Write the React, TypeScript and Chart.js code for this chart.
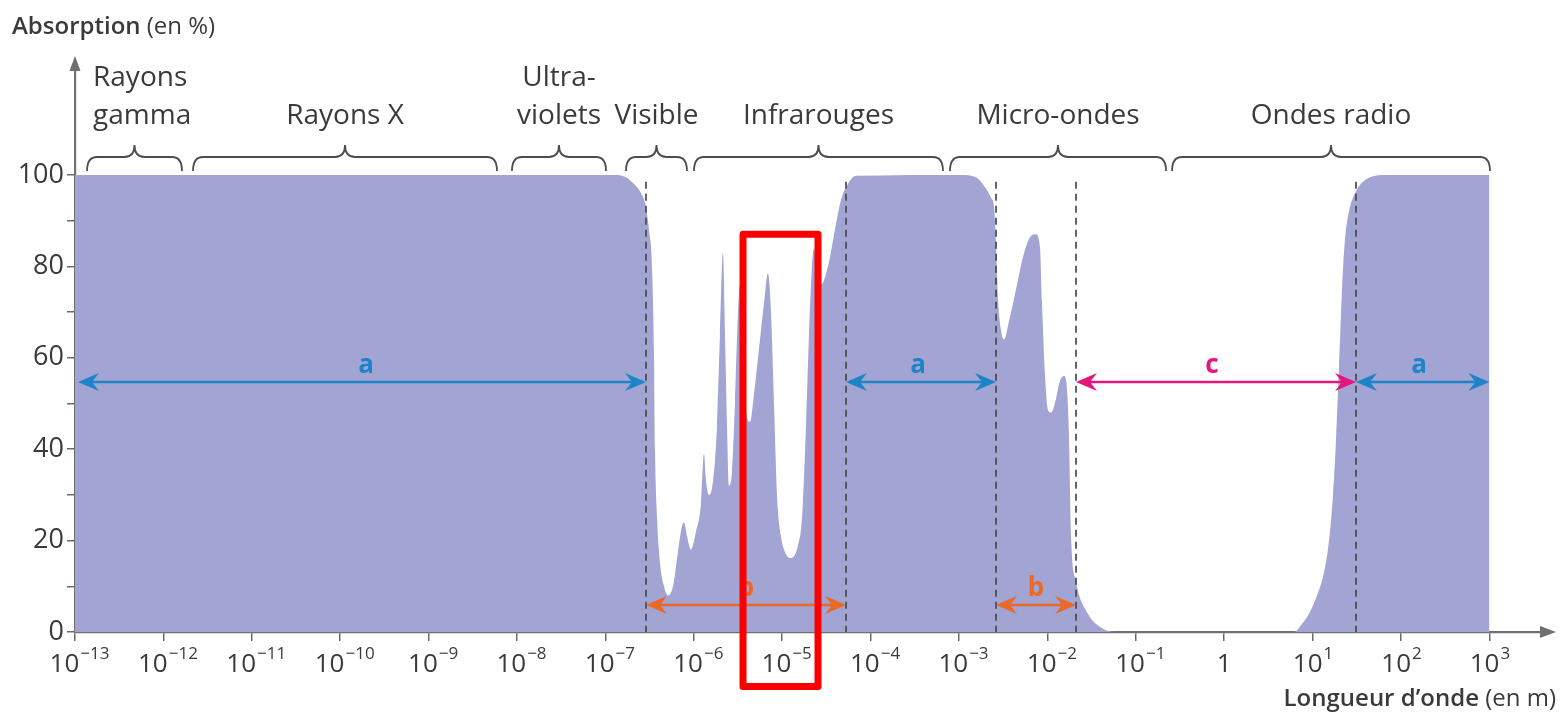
import React, { useEffect, useRef } from 'react';
import { Chart, registerables } from 'chart.js';

Chart.register(...registerables);

// log10 of wavelength (m)
const wavelengthExp = [
  -13, -6.88, -6.767, -6.676, -6.597, -6.541, -6.507, -6.473, -6.45, -6.439, -6.416, -6.382, -6.337,
  -6.292, -6.235, -6.19, -6.145, -6.111, -6.077, -6.032, -5.975, -5.919, -5.885, -5.862, -5.828,
  -5.783, -5.738, -5.704, -5.67, -5.647, -5.624, -5.602, -5.568, -5.534, -5.5, -5.477, -5.443,
  -5.398, -5.364, -5.319, -5.262, -5.206, -5.161, -5.127, -5.093, -5.059, -5.014, -4.957, -4.91,
  -4.86, -4.821, -4.776, -4.731, -4.697, -4.663, -4.64, -4.606, -4.561, -4.482, -4.403, -4.335,
  -4.256, -4.165, -2.977, -2.808, -2.695, -2.638, -2.604, -2.581, -2.559, -2.525, -2.491, -2.434,
  -2.355, -2.276, -2.208, -2.13, -2.083, -2.061, -2.027, -1.993, -1.959, -1.903, -1.857, -1.812,
  -1.778, -1.756, -1.733, -1.676, -1.541, -1.394, -1.224, 0.79, 0.869, 0.959, 1.05, 1.129, 1.186,
  1.231, 1.265, 1.299, 1.333, 1.367, 1.412, 1.48, 1.57, 1.683, 1.796, 3,
];
// absorption (%)
const absorption = [
  100, 100, 99.5, 98, 96, 93, 88, 80, 60, 40, 25, 15, 10,
  8, 10, 16, 22, 24, 21, 18, 22, 28, 39, 33, 30,
  33, 45, 65, 83, 65, 45, 32, 35, 50, 70, 76, 62,
  47, 46, 52, 62, 72, 78.5, 70, 50, 30, 21, 17, 16.2,
  16.8, 19, 25, 45, 65, 80, 84, 78, 76, 80, 88, 94.5,
  98, 99.8, 100, 99.5, 97, 95, 93, 85, 73, 66, 64, 68,
  75, 82, 86, 87, 84, 72, 56, 48.5, 48, 51, 55, 56,
  53, 43, 21, 11, 4, 1, 0, 0, 1.5, 4, 8, 13, 20,
  30, 42, 58, 75, 86, 92, 96, 98.5, 99.7, 100, 100,
];

const xTickExps = [-13, -12, -11, -10, -9, -8, -7, -6, -5, -4, -3, -2, -1, 0, 1, 2, 3];
const yTickValues = [0, 10, 20, 30, 40, 50, 60, 70, 80, 90, 100];
const yLabelStep = 20;

const regionLines = [['Rayons', 'gamma'], ['Rayons X'], ['Ultra-', 'violets'], ['Visible'], ['Infrarouges'], ['Micro-ondes'], ['Ondes radio']];
const regionStart = [-12.864, -11.665, -8.057, -6.767, -5.998, -3.102, -0.59];
const regionEnd = [-11.79, -8.226, -6.993, -6.077, -3.181, -0.658, 3.007];

const boundaryExps = [-6.541, -4.278, -2.581, -1.676, 1.491];
const arrowNames = ['a', 'b', 'a', 'b', 'c', 'a'];
const arrowFrom = [-13, -6.541, -4.278, -2.581, -1.676, 1.491];
const arrowTo = [-6.541, -4.278, -2.581, -1.676, 1.491, 3];
const arrowLevel = [54.7, 5.9, 54.7, 5.9, 54.7, 54.7];
const arrowLabelExp = [-9.708, -5.41, -3.464, -2.129, -0.138, 2.204];

const highlightExpFrom = -5.443;
const highlightExpTo = -4.595;
const highlightTop = 87;
const highlightBottom = -11.9;

const COLORS: Record<string, string> = { a: 'rgb(30,132,200)', b: 'rgb(236,104,36)', c: 'rgb(228,24,124)' };
const TEXT = '#3a3a3a';
const FONT = '"Open Sans", "Noto Sans", sans-serif';

function arrowHead(ctx: CanvasRenderingContext2D, tx: number, y: number, dir: number) {
  ctx.beginPath();
  ctx.moveTo(tx, y);
  ctx.lineTo(tx - dir * 21, y - 9);
  ctx.lineTo(tx - dir * 14, y);
  ctx.lineTo(tx - dir * 21, y + 9);
  ctx.closePath();
  ctx.fill();
}

const annotations = {
  id: 'annotations',
  afterDraw(chart: any) {
    const ctx: CanvasRenderingContext2D = chart.ctx;
    const xs = chart.scales.x;
    const ys = chart.scales.y;
    const X = (v: number) => xs.getPixelForValue(v);
    const Y = (v: number) => ys.getPixelForValue(v);
    const area = chart.chartArea;
    ctx.save();

    // dashed boundaries
    ctx.strokeStyle = '#4a4a4a';
    ctx.lineWidth = 1.7;
    ctx.setLineDash([7, 5]);
    boundaryExps.forEach((b) => {
      ctx.beginPath();
      ctx.moveTo(X(b), Y(98.5));
      ctx.lineTo(X(b), Y(0));
      ctx.stroke();
    });
    ctx.setLineDash([]);

    // arrows
    arrowNames.forEach((n, i) => {
      const c = COLORS[n];
      const x1 = X(arrowFrom[i]) + (i === 0 ? 3 : 0);
      const x2 = X(arrowTo[i]);
      const y = Y(arrowLevel[i]);
      ctx.strokeStyle = c;
      ctx.fillStyle = c;
      ctx.lineWidth = 2.4;
      ctx.beginPath();
      ctx.moveTo(x1 + 12, y);
      ctx.lineTo(x2 - 12, y);
      ctx.stroke();
      arrowHead(ctx, x1, y, -1);
      arrowHead(ctx, x2, y, 1);
      ctx.font = `bold 26px ${FONT}`;
      ctx.textAlign = 'center';
      ctx.textBaseline = 'alphabetic';
      ctx.fillText(n, X(arrowLabelExp[i]), y - 9);
    });

    // braces + region labels
    ctx.strokeStyle = '#4d4d4d';
    ctx.lineWidth = 1.8;
    const yTip = 145, yMid = 157, yEnd = 171;
    regionLines.forEach((lines, i) => {
      const x0 = X(regionStart[i]);
      const x1 = X(regionEnd[i]);
      const tip = (x0 + x1) / 2;
      const r = 10;
      ctx.beginPath();
      ctx.moveTo(x0, yEnd);
      ctx.quadraticCurveTo(x0, yMid, x0 + r, yMid);
      ctx.lineTo(tip - r, yMid);
      ctx.quadraticCurveTo(tip, yMid, tip, yTip);
      ctx.quadraticCurveTo(tip, yMid, tip + r, yMid);
      ctx.lineTo(x1 - r, yMid);
      ctx.quadraticCurveTo(x1, yMid, x1, yEnd);
      ctx.stroke();

      ctx.fillStyle = TEXT;
      ctx.font = `28px ${FONT}`;
      ctx.textBaseline = 'alphabetic';
      if (i === 0) {
        ctx.textAlign = 'left';
        ctx.fillText(lines[0], x0 + 6, 86);
        ctx.fillText(lines[1], x0 + 6, 124);
      } else {
        ctx.textAlign = 'center';
        if (lines.length === 2) {
          ctx.fillText(lines[0], tip, 86);
          ctx.fillText(lines[1], tip, 124);
        } else {
          ctx.fillText(lines[0], tip, 124);
        }
      }
    });

    // axis arrowheads
    ctx.fillStyle = '#707070';
    ctx.beginPath();
    ctx.moveTo(area.left, area.top - 6);
    ctx.lineTo(area.left - 5.5, area.top + 9);
    ctx.lineTo(area.left + 5.5, area.top + 9);
    ctx.closePath();
    ctx.fill();
    ctx.beginPath();
    ctx.moveTo(area.right + 8, area.bottom);
    ctx.lineTo(area.right - 8, area.bottom - 6);
    ctx.lineTo(area.right - 8, area.bottom + 6);
    ctx.closePath();
    ctx.fill();

    // x tick labels with superscripts
    ctx.fillStyle = TEXT;
    ctx.textAlign = 'left';
    ctx.textBaseline = 'alphabetic';
    xTickExps.forEach((e) => {
      const px = X(e);
      if (e === 0) {
        ctx.font = `26px ${FONT}`;
        ctx.textAlign = 'center';
        ctx.fillText('1', px, 672);
        ctx.textAlign = 'left';
        return;
      }
      const base = '10';
      const sup = e < 0 ? '\u2212' + String(-e) : String(e);
      ctx.font = `26px ${FONT}`;
      const wb = ctx.measureText(base).width;
      ctx.font = `17px ${FONT}`;
      const ws = ctx.measureText(sup).width;
      const start = px - (wb + ws) / 2 + (e < 0 ? 4 : 0);
      ctx.font = `26px ${FONT}`;
      ctx.fillText(base, start, 672);
      ctx.font = `17px ${FONT}`;
      ctx.fillText(sup, start + wb + 1, 659);
    });

    // axis titles
    ctx.textAlign = 'left';
    ctx.font = `600 24px ${FONT}`;
    ctx.fillText('Absorption', 12, 34);
    const wa = ctx.measureText('Absorption ').width;
    ctx.font = `24px ${FONT}`;
    ctx.fillText('(en %)', 12 + wa, 34);

    ctx.font = `24px ${FONT}`;
    const tail = ' (en m)';
    const wt = ctx.measureText(tail).width;
    ctx.textAlign = 'right';
    ctx.fillText(tail, 1556, 706);
    ctx.font = `600 24px ${FONT}`;
    ctx.fillText('Longueur d\u2019onde', 1556 - wt, 706);

    // red highlight box
    const bx0 = X(highlightExpFrom), bx1 = X(highlightExpTo);
    const by0 = Y(highlightTop), by1 = Y(highlightBottom);
    ctx.strokeStyle = 'rgb(250,0,0)';
    ctx.lineWidth = 7;
    ctx.lineJoin = 'round';
    ctx.beginPath();
    ctx.rect(bx0, by0, bx1 - bx0, by1 - by0);
    ctx.stroke();

    ctx.restore();
  },
};

export default function App() {
  const ref = useRef<HTMLCanvasElement>(null);
  useEffect(() => {
    if (!ref.current) return;
    const points = wavelengthExp.map((x, i) => ({ x, y: absorption[i] }));
    const chart = new Chart(ref.current, {
      type: 'line',
      data: {
        datasets: [
          {
            data: points,
            fill: 'origin',
            backgroundColor: 'rgb(162,164,212)',
            borderWidth: 0,
            borderColor: 'rgba(0,0,0,0)',
            pointRadius: 0,
            cubicInterpolationMode: 'monotone',
          },
        ],
      },
      options: {
        responsive: false,
        animation: false,
        events: [],
        layout: { padding: { left: 0, top: 62, right: 19, bottom: 0 } },
        plugins: { legend: { display: false }, tooltip: { enabled: false } },
        scales: {
          x: {
            type: 'linear',
            min: -13,
            max: 3.663,
            z: 1,
            afterBuildTicks: (scale: any) => {
              scale.ticks = xTickExps.map((v) => ({ value: v }));
            },
            afterFit: (scale: any) => {
              scale.height = 89;
            },
            ticks: { autoSkip: false, callback: () => '', maxRotation: 0 },
            grid: { drawOnChartArea: false, drawTicks: true, tickLength: 9, color: '#6a6a6a', lineWidth: 1.5 },
            border: { display: true, color: '#707070', width: 2.2 },
          },
          y: {
            type: 'linear',
            min: 0,
            max: 124.7,
            z: 1,
            afterBuildTicks: (scale: any) => {
              scale.ticks = yTickValues.map((v) => ({ value: v }));
            },
            afterFit: (scale: any) => {
              scale.width = 75;
            },
            ticks: {
              autoSkip: false,
              padding: 3,
              color: TEXT,
              font: { family: '"Open Sans", "Noto Sans", sans-serif', size: 27 },
              callback: (v: any) => (Number(v) % yLabelStep === 0 ? String(v) : ''),
            },
            grid: { drawOnChartArea: false, drawTicks: true, tickLength: 8, color: '#6a6a6a', lineWidth: 1.5 },
            border: { display: true, color: '#707070', width: 2.2 },
          },
        },
      },
      plugins: [annotations],
    } as any);
    return () => chart.destroy();
  }, []);
  return (
    <div style={{ position: 'fixed', left: 0, top: 0, width: 1567, height: 721, background: '#fff' }}>
      <canvas ref={ref} width={1567} height={721} style={{ display: 'block' }} />
    </div>
  );
}
